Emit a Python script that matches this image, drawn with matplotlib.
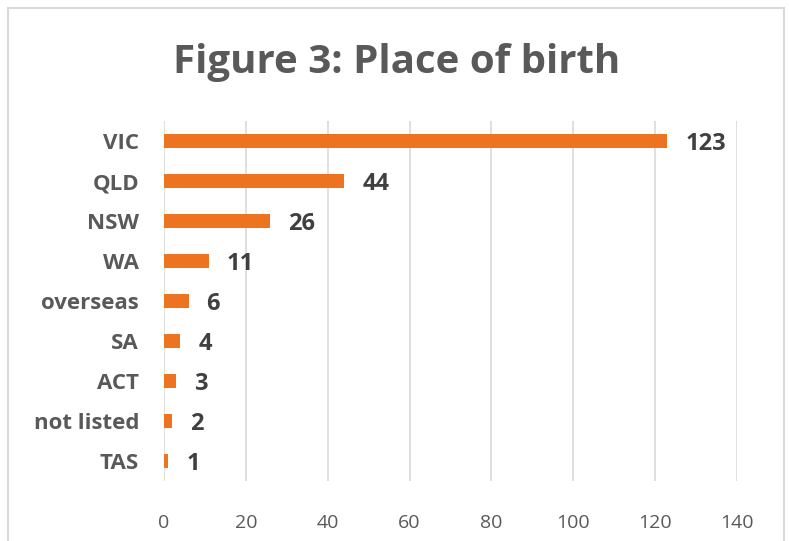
import matplotlib
matplotlib.use("Agg")
import matplotlib.pyplot as plt
from matplotlib.patches import Rectangle

categories = ["VIC", "QLD", "NSW", "WA", "overseas", "SA", "ACT", "not listed", "TAS"]
values = [123, 44, 26, 11, 6, 4, 3, 2, 1]
xticks = [0, 20, 40, 60, 80, 100, 120, 140]

fam = ["Liberation Sans Narrow", "Open Sans", "DejaVu Sans"]
plt.rcParams['font.family'] = fam

fig = plt.figure(figsize=(7.89, 5.41), dpi=100)
fig.patches.append(Rectangle((8/789, -0.1), (784-8)/789, 1.1 - 8/541 + 0.0,
                             transform=fig.transFigure, fill=False,
                             edgecolor="#D9D9D9", linewidth=1.5))
ax = fig.add_axes([164/789, 1-481/541, (737-164)/789, (481-121)/541])

y = list(range(len(categories)))
ax.barh(y, values, height=0.35, color="#EE7320", zorder=3)
ax.set_ylim(len(categories)-0.5, -0.5)
ax.set_xlim(0, 140)
ax.set_xticks(xticks)
ax.set_yticks(y)
ax.set_yticklabels(categories, fontsize=16, fontweight="bold", color="#595959")
ax.tick_params(axis="y", length=0, pad=18)
ax.tick_params(axis="x", length=0, pad=24, labelsize=14, labelcolor="#595959")
for s in ax.spines.values():
    s.set_visible(False)
ax.grid(axis="x", color="#D9D9D9", linewidth=1.2, zorder=0)
ax.set_axisbelow(True)

for yi, v in zip(y, values):
    ax.annotate(str(v), (v, yi), xytext=(13, -2), textcoords="offset points",
                va="center", ha="left", fontsize=17, fontweight="bold",
                color="#404040")

fig.text(397/789, 1-62/541, "Figure 3: Place of birth", ha="center", va="center",
         fontsize=29, fontweight="bold", color="#595959")

fig.savefig("out.png", dpi=100)
